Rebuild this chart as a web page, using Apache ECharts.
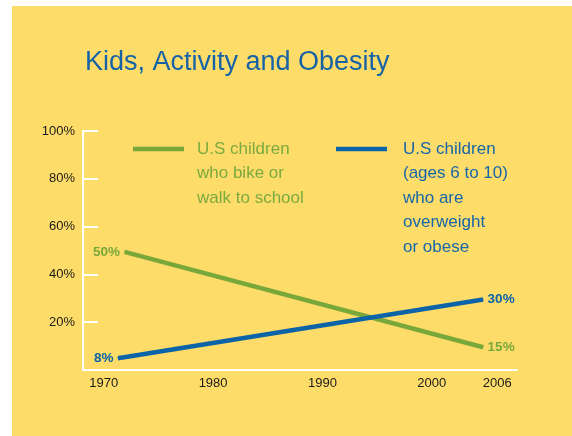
<!DOCTYPE html>
<html>
<head>
<meta charset="utf-8">
<script src="https://cdn.jsdelivr.net/npm/echarts@6/dist/echarts.min.js"></script>
<style>
html,body{margin:0;padding:0;background:#fff;overflow:hidden;}
#c{width:572px;height:436px;background:linear-gradient(#FEDC6A,#FEDC6A) no-repeat 12px 6px / 580px 450px, #fff;}
</style>
</head>
<body>
<div id="c"></div>
<script>
// Data
const titleText = 'Kids, Activity and Obesity';
const xTickLabels = [1970, 1980, 1990, 2000, 2006];
const yTickValues = [20, 40, 60, 80, 100];

const bikeName = 'U.S children\nwho bike or\nwalk to school';
const bikeYears = [1971.9, 2004.7];
const bikeValues = [49.4, 9.5];
const bikeLabels = ['50%', '15%'];

const obeseName = 'U.S children\n(ages 6 to 10)\nwho are\noverweight\nor obese';
const obeseYears = [1971.3, 2004.7];
const obeseValues = [4.9, 29.5];
const obeseLabels = ['8%', '30%'];

const GREEN = '#79A83A';
const BLUE = '#0B63A8';
const FONT = '"Liberation Sans", Arial, Helvetica, sans-serif';

function buildData(years, values, labels) {
  return years.map((yr, i) => ({
    value: [yr, values[i]],
    label: {
      show: true,
      position: i === 0 ? 'left' : 'right',
      distance: 4,
      formatter: labels[i]
    }
  }));
}

const chart = echarts.init(document.getElementById('c'), null, {renderer: 'canvas'});
chart.setOption({
  backgroundColor: 'transparent',
  animation: false,
  title: {
    text: titleText,
    left: 85,
    top: 49,
    padding: 0,
    textStyle: {color: '#1563A6', fontFamily: FONT, fontWeight: 'normal', fontSize: 27, lineHeight: 27}
  },
  grid: {left: 83, top: 131, right: 55, bottom: 66, containLabel: false},
  xAxis: {
    type: 'value',
    min: 1968.1,
    max: 2007.8,
    splitLine: {show: false},
    axisTick: {show: false},
    axisLine: {show: true, lineStyle: {color: '#ffffff', width: 2}},
    axisLabel: {
      customValues: xTickLabels,
      formatter: v => String(Math.round(v)),
      color: '#1a1a1a', fontFamily: FONT, fontSize: 13, margin: 7
    }
  },
  yAxis: {
    type: 'value',
    min: 0, max: 100, interval: 20,
    splitLine: {show: false},
    axisLine: {show: true, lineStyle: {color: '#ffffff', width: 2}},
    axisTick: {show: true, inside: true, length: 15, lineStyle: {color: '#ffffff', width: 2}},
    axisLabel: {
      formatter: v => (yTickValues.indexOf(v) >= 0 ? v + '%' : ''),
      color: '#1a1a1a', fontFamily: FONT, fontSize: 13, margin: 8
    }
  },
  series: [
    {
      name: bikeName,
      type: 'line',
      data: buildData(bikeYears, bikeValues, bikeLabels),
      symbol: 'circle', symbolSize: 1, showSymbol: true,
      lineStyle: {color: GREEN, width: 4.5},
      itemStyle: {color: GREEN},
      label: {color: GREEN, fontFamily: FONT, fontWeight: 'bold', fontSize: 13.5}
    },
    {
      name: obeseName,
      type: 'line',
      data: buildData(obeseYears, obeseValues, obeseLabels),
      symbol: 'circle', symbolSize: 1, showSymbol: true,
      lineStyle: {color: BLUE, width: 4.5},
      itemStyle: {color: BLUE},
      label: {color: BLUE, fontFamily: FONT, fontWeight: 'bold', fontSize: 13.5}
    }
  ],
  graphic: [
    {type: 'line', shape: {x1: 133, y1: 149, x2: 184, y2: 149}, style: {stroke: GREEN, lineWidth: 4.5}},
    {type: 'text', x: 197, y: 136.75, style: {text: bikeName, fill: '#7BAA3E', font: '17px ' + FONT, lineHeight: 24.5, verticalAlign: 'top'}},
    {type: 'line', shape: {x1: 336, y1: 149, x2: 387, y2: 149}, style: {stroke: BLUE, lineWidth: 4.5}},
    {type: 'text', x: 403, y: 136.75, style: {text: obeseName, fill: '#1766A8', font: '17px ' + FONT, lineHeight: 24.5, verticalAlign: 'top'}}
  ]
});
</script>
</body>
</html>
